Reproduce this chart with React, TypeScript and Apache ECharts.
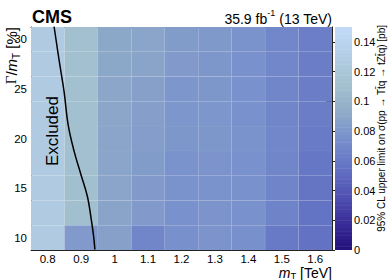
import React, { useEffect, useRef } from "react";
import * as echarts from "echarts";

// ---- data ----
const massTeV = [0.8, 0.9, 1.0, 1.1, 1.2, 1.3, 1.4, 1.5, 1.6];
const widthPct = [10, 12.5, 15, 17.5, 20, 22.5, 25, 27.5, 30];
// 95% CL upper limits [pb], one array per mass, rows from Γ/m=10% to 30%
const lim0800 = [0.127, 0.127, 0.127, 0.127, 0.127, 0.127, 0.127, 0.127, 0.127];
const lim0900 = [0.082, 0.110, 0.110, 0.111, 0.111, 0.111, 0.111, 0.111, 0.111];
const lim1000 = [0.086, 0.088, 0.089, 0.089, 0.089, 0.090, 0.090, 0.091, 0.091];
const lim1100 = [0.068, 0.082, 0.082, 0.083, 0.084, 0.085, 0.086, 0.088, 0.089];
const lim1200 = [0.075, 0.076, 0.077, 0.077, 0.080, 0.079, 0.079, 0.082, 0.083];
const lim1300 = [0.078, 0.078, 0.077, 0.078, 0.080, 0.079, 0.080, 0.080, 0.081];
const lim1400 = [0.075, 0.076, 0.076, 0.076, 0.077, 0.076, 0.076, 0.076, 0.077];
const lim1500 = [0.060, 0.066, 0.067, 0.068, 0.069, 0.068, 0.068, 0.069, 0.069];
const lim1600 = [0.055, 0.056, 0.057, 0.058, 0.061, 0.062, 0.062, 0.062, 0.063];
const limitColumns = [lim0800, lim0900, lim1000, lim1100, lim1200, lim1300, lim1400, lim1500, lim1600];

// exclusion contour
const exclMass = [0.819, 0.834, 0.849, 0.861, 0.879, 0.899, 0.919, 0.929, 0.937, 0.941];
const exclWidth = [31.3, 27.9, 24.7, 21.4, 18.7, 16.4, 14.1, 12.1, 10.2, 8.8];

// tick labels
const xTickLabels = [0.8, 0.9, 1.0, 1.1, 1.2, 1.3, 1.4, 1.5, 1.6];
const yTickLabels = [10, 15, 20, 25, 30];
const zTickLabels = [0, 0.02, 0.04, 0.06, 0.08, 0.1, 0.12, 0.14];

const paletteColors = ["#24107a", "#3a2e9a", "#5254b4", "#6474c4", "#7890cc", "#90acc8", "#a4c2d0", "#b4cee6", "#c2daf8"];

const FONT = '"Liberation Sans", Arial, Helvetica, sans-serif';

export default function App() {
  const ref = useRef<HTMLDivElement>(null);
  useEffect(() => {
    if (!ref.current) return;
    const chart = echarts.init(ref.current, null, { renderer: "svg" });

    const heat: number[][] = [];
    massTeV.forEach((m, i) => {
      widthPct.forEach((w, j) => heat.push([m, w, limitColumns[i][j]]));
    });
    const xMinor = Array.from({ length: 45 }, (_, i) => +(0.76 + 0.02 * i).toFixed(2));
    const yMinor = Array.from({ length: 23 }, (_, i) => 9 + i);
    const bands: number[][] = [];
    const nb = 60;
    for (let k = 0; k < nb; k++) {
      const lo = (0.15 * k) / nb, hi = (0.15 * (k + 1)) / nb;
      bands.push([0, lo, (lo + hi) / 2, hi]);
    }

    const axisCol = "#222";
    const mkX = (pos: "top" | "bottom", ticks: number[], len: number, line: boolean, labels: boolean) => ({
      type: "value", gridIndex: 0, position: pos, min: 0.75, max: 1.65,
      axisLine: { show: line, onZero: false, lineStyle: { color: axisCol, width: 1 } },
      axisTick: { show: true, inside: true, length: len, customValues: ticks, lineStyle: { color: axisCol, width: 1 } },
      axisLabel: labels
        ? { show: true, customValues: xTickLabels, margin: 3, fontSize: 11.5, color: "#000", fontFamily: FONT,
            formatter: (v: number) => String(+v.toFixed(2)) }
        : { show: false },
      splitLine: { show: false },
    });
    const mkY = (pos: "left" | "right", ticks: number[], len: number, line: boolean, labels: boolean) => ({
      type: "value", gridIndex: 0, position: pos, min: 8.75, max: 31.25,
      axisLine: { show: line, onZero: false, lineStyle: { color: axisCol, width: 1 } },
      axisTick: { show: true, inside: true, length: len, customValues: ticks, lineStyle: { color: axisCol, width: 1 } },
      axisLabel: labels
        ? { show: true, customValues: yTickLabels, margin: 4, fontSize: 11.5, color: "#000", fontFamily: FONT }
        : { show: false },
      splitLine: { show: false },
    });

    chart.setOption({
      animation: false,
      backgroundColor: "#fff",
      grid: [
        { left: 31, top: 27, width: 301, height: 223, containLabel: false },
        { left: 335, top: 27, width: 17, height: 223, containLabel: false },
      ],
      xAxis: [
        mkX("bottom", xTickLabels, 7, true, true),
        mkX("bottom", xMinor, 3.5, false, false),
        mkX("top", xTickLabels, 7, true, false),
        mkX("top", xMinor, 3.5, false, false),
        { type: "value", gridIndex: 1, min: 0, max: 1, show: false },
      ],
      yAxis: [
        mkY("left", yTickLabels, 9, true, true),
        mkY("left", yMinor, 4.5, false, false),
        mkY("right", yTickLabels, 9, true, false),
        mkY("right", yMinor, 4.5, false, false),
        {
          type: "value", gridIndex: 1, position: "right", min: 0, max: 0.15,
          axisLine: { show: false },
          axisTick: { show: true, inside: true, length: 9, customValues: zTickLabels, lineStyle: { color: axisCol, width: 1 } },
          axisLabel: { show: true, customValues: zTickLabels, margin: 2, fontSize: 11, color: "#000", fontFamily: FONT,
            formatter: (v: number) => String(+v.toFixed(2)) },
          splitLine: { show: false },
        },
      ],
      visualMap: {
        type: "continuous", show: false, min: 0, max: 0.15, dimension: 2, seriesIndex: [0, 2],
        inRange: { color: paletteColors },
      },
      series: [
        {
          type: "custom", xAxisIndex: 0, yAxisIndex: 0, clip: true, z: 1,
          data: heat,
          renderItem: (params: any, api: any) => {
            const x = api.value(0), y = api.value(1);
            const p0 = api.coord([x - 0.05, y + 1.25]);
            const p1 = api.coord([x + 0.05, y - 1.25]);
            return {
              type: "rect",
              shape: { x: p0[0], y: p0[1], width: p1[0] - p0[0], height: p1[1] - p0[1] },
              style: { fill: api.visual("color"), stroke: "rgba(255,255,255,0.07)", lineWidth: 0.6 },
            };
          },
        },
        {
          type: "line", xAxisIndex: 0, yAxisIndex: 0, clip: true, z: 5,
          data: exclMass.map((m, i) => [m, exclWidth[i]]),
          smooth: 0.4, showSymbol: false, symbol: "none",
          lineStyle: { color: "#000", width: 1.5 },
        },
        {
          type: "custom", xAxisIndex: 4, yAxisIndex: 4, clip: true, z: 1,
          data: bands,
          renderItem: (params: any, api: any) => {
            const p0 = api.coord([0, api.value(3)]);
            const p1 = api.coord([1, api.value(1)]);
            return {
              type: "rect",
              shape: { x: p0[0], y: p0[1], width: p1[0] - p0[0], height: p1[1] - p0[1] + 0.5 },
              style: { fill: api.visual("color") },
            };
          },
        },
      ],
      graphic: [
        { type: "text", x: 32, y: 26, style: { text: "CMS", fontSize: 18, fontWeight: "bold", fontFamily: FONT, fill: "#000", verticalAlign: "bottom" } },
        {
          type: "text", x: 332, y: 17,
          style: {
            text: "{a|35.9 fb}{s|-1}{a| (13 TeV)}", align: "right", verticalAlign: "middle", fontFamily: FONT,
            rich: {
              a: { fontSize: 14, fontFamily: FONT, fill: "#000", lineHeight: 18, verticalAlign: "bottom" },
              s: { fontSize: 9, fontFamily: FONT, fill: "#000", lineHeight: 18, verticalAlign: "top" },
            },
          },
        },
        {
          type: "text", x: 332, y: 273,
          style: {
            text: "{i|m}{b|T}{a| [TeV]}", align: "right", verticalAlign: "middle", fontFamily: FONT,
            rich: {
              i: { fontSize: 14, fontStyle: "italic", fontFamily: FONT, fill: "#000", lineHeight: 15, verticalAlign: "middle" },
              b: { fontSize: 9.5, fontFamily: FONT, fill: "#000", lineHeight: 15, verticalAlign: "bottom" },
              a: { fontSize: 14, fontFamily: FONT, fill: "#000", lineHeight: 15, verticalAlign: "middle" },
            },
          },
        },
        {
          type: "text", x: 11, y: 27, rotation: Math.PI / 2,
          style: {
            text: "{g|Γ}{a|/}{i|m}{b|T}{a| [%]}", align: "right", verticalAlign: "middle", fontFamily: FONT,
            rich: {
              g: { fontSize: 15, fontFamily: '"Liberation Serif", "DejaVu Serif", serif', fill: "#000", lineHeight: 20, verticalAlign: "middle" },
              i: { fontSize: 15, fontStyle: "italic", fontFamily: FONT, fill: "#000", lineHeight: 20, verticalAlign: "middle" },
              b: { fontSize: 10, fontFamily: FONT, fill: "#000", lineHeight: 20, verticalAlign: "bottom" },
              a: { fontSize: 15, fontFamily: FONT, fill: "#000", lineHeight: 20, verticalAlign: "middle" },
            },
          },
        },
        {
          type: "text", x: 381, y: 25, rotation: Math.PI / 2,
          style: {
            text: "95% CL upper limit on σ(pp → Tt̄q → tZt̄q) [pb]", align: "right", verticalAlign: "middle",
            fontSize: 10, fontFamily: FONT, fill: "#000",
          },
        },
        {
          type: "text", x: 52, y: 131, rotation: Math.PI / 2, z: 10,
          style: { text: "Excluded", align: "center", verticalAlign: "middle", fontSize: 17, fontFamily: FONT, fill: "#000" },
        },
      ],
    });
    return () => chart.dispose();
  }, []);
  return <div ref={ref} style={{ position: "fixed", left: 0, top: 0, width: 390, height: 280 }} />;
}
